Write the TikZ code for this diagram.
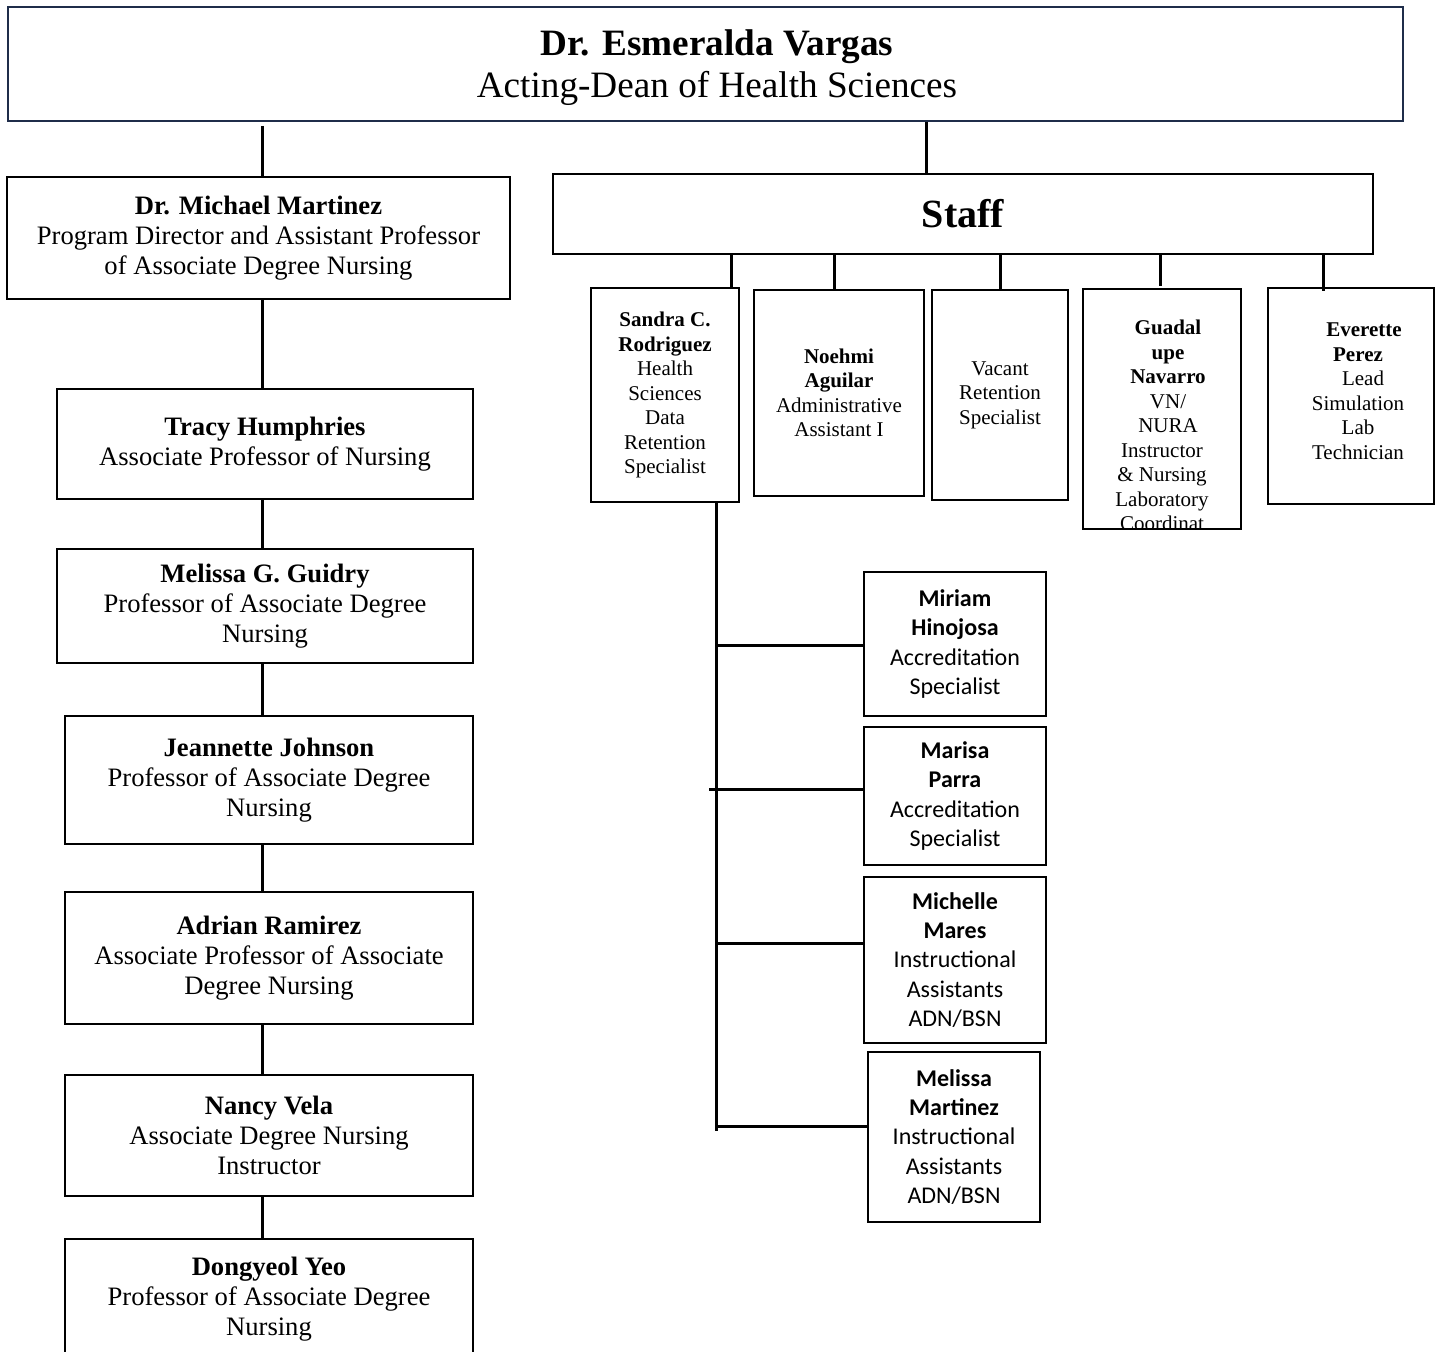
\documentclass[tikz,border=0pt]{standalone}
\usepackage{fontspec}
\setmainfont{Liberation Serif}
\newfontfamily\calibfont{Carlito}
\usepackage{tikz}
\usetikzlibrary{shapes,arrows}
\definecolor{deanblue}{RGB}{31,45,74}
\tikzstyle{link} = [draw, line width=1.5pt]
\tikzstyle{facbox} = [rectangle, draw=black, line width=1pt, align=center, inner sep=0pt, font=\fontsize{13.3}{15}\selectfont]
\tikzstyle{staffbox} = [rectangle, draw=black, line width=1pt, align=center, inner sep=0pt, font=\fontsize{10.5}{12.25}\selectfont]
\tikzstyle{stafftext} = [align=center, inner sep=0pt, font=\fontsize{10.5}{12.25}\selectfont]
\tikzstyle{subbox} = [rectangle, draw=black, line width=1.3pt, align=center, inner sep=0pt, font=\calibfont\fontsize{12}{14.65}\selectfont]

\begin{document}
\begin{tikzpicture}[x=0.5pt, y=-0.5pt]
        \useasboundingbox (0,0) rectangle (1435,1352);
        % dean
        \node (Dean) [rectangle, draw=deanblue, line width=1pt, minimum width=697.5pt, minimum height=57pt] at (705.5,64) {};
        \node (DeanText) [align=center, inner sep=0pt, font=\fontsize{18.6}{21}\selectfont] at (717,68) {\textbf{Dr. Esmeralda Vargas}\\Acting-Dean of Health Sciences};

        % faculty column
        \node (Michael) [facbox, minimum width=251.5pt, minimum height=61pt] at (258.5,238) {\textbf{Dr. Michael Martinez}\\Program Director and Assistant Professor\\of Associate Degree Nursing};
        \node (Tracy) [facbox, minimum width=208pt, minimum height=55pt] at (265,444) {\textbf{Tracy Humphries}\\Associate Professor of Nursing};
        \node (Guidry) [facbox, minimum width=208pt, minimum height=57pt] at (265,606) {\textbf{Melissa G. Guidry}\\Professor of Associate Degree\\Nursing};
        \node (Johnson) [facbox, minimum width=204pt, minimum height=64pt] at (269,780) {\textbf{Jeannette Johnson}\\Professor of Associate Degree\\Nursing};
        \node (Ramirez) [facbox, minimum width=204pt, minimum height=66pt] at (269,958) {\textbf{Adrian Ramirez}\\Associate Professor of Associate\\Degree Nursing};
        \node (Vela) [facbox, minimum width=204pt, minimum height=60.5pt] at (269,1135.5) {\textbf{Nancy Vela}\\Associate Degree Nursing\\Instructor};
        \node (Yeo) [facbox, minimum width=204pt, minimum height=60.5pt] at (269,1299.5) {\textbf{Dongyeol Yeo}\\Professor of Associate Degree\\Nursing};

        \coordinate (Spine) at (262.5,0);
        \path [link] ([yshift=-2pt]Dean.south -| Spine) -- (Michael.north -| Spine);
        \path [link] (Michael.south -| Spine) -- (Tracy.north -| Spine);
        \path [link] (Tracy.south -| Spine) -- (Guidry.north -| Spine);
        \path [link] (Guidry.south -| Spine) -- (Johnson.north -| Spine);
        \path [link] (Johnson.south -| Spine) -- (Ramirez.north -| Spine);
        \path [link] (Ramirez.south -| Spine) -- (Vela.north -| Spine);
        \path [link] (Vela.south -| Spine) -- (Yeo.north -| Spine);

        % staff
        \node (Staff) [rectangle, draw=black, line width=1pt, minimum width=410pt, minimum height=40pt, font=\fontsize{20}{24}\selectfont\bfseries] at (963,214) {Staff};
        \coordinate (StaffDrop) at (926,0);
        \path [link] (Dean.south -| StaffDrop) -- (Staff.north -| StaffDrop);

        \node (Sandra) [staffbox, minimum width=74pt, minimum height=107pt] at (665,395) {\textbf{Sandra C.}\\\textbf{Rodriguez}\\Health\\Sciences\\Data\\Retention\\Specialist};
        \node (Noehmi) [staffbox, minimum width=85pt, minimum height=103pt] at (839,393) {\textbf{Noehmi}\\\textbf{Aguilar}\\Administrative\\Assistant I};
        \node (Vacant) [staffbox, minimum width=68pt, minimum height=105pt] at (1000,395) {Vacant\\Retention\\Specialist};
        \begin{scope}
            \clip (1083,289) rectangle (1241,529);
            \node (GuadalupeText) [stafftext] at (1162,425.5) {\hspace*{6pt}\textbf{Guadal}\\\hspace*{6pt}\textbf{upe}\\\hspace*{6pt}\textbf{Navarro}\\\hspace*{6pt}VN/\\\hspace*{6pt}NURA\\Instructor\\\& Nursing\\Laboratory\\Coordinat};
        \end{scope}
        \node (Guadalupe) [staffbox, minimum width=79pt, minimum height=120pt] at (1162,409) {};
        \node (Everette) [staffbox, minimum width=83pt, minimum height=108pt] at (1351,396) {};
        \node (EveretteText) [stafftext] at (1358,391) {\hspace*{6pt}\textbf{Everette}\\\textbf{Perez}\\\hspace*{5pt}Lead\\Simulation\\Lab\\Technician};

        \coordinate (SandraDrop) at (731,0);
        \coordinate (NoehmiDrop) at (834,0);
        \coordinate (VacantDrop) at (1000,0);
        \coordinate (GuadalupeDrop) at (1160,0);
        \coordinate (EveretteDrop) at (1323,0);
        \path [link] (Staff.south -| SandraDrop) -- (Sandra.north -| SandraDrop);
        \path [link] (Staff.south -| NoehmiDrop) -- (Noehmi.north -| NoehmiDrop);
        \path [link] (Staff.south -| VacantDrop) -- (Vacant.north -| VacantDrop);
        \path [link] (Staff.south -| GuadalupeDrop) -- ([yshift=1pt]Guadalupe.north -| GuadalupeDrop);
        \path [link] (Staff.south -| EveretteDrop) -- ([yshift=-2pt]Everette.north -| EveretteDrop);

        % accreditation and instructional assistants
        \node (Miriam) [subbox, minimum width=91pt, minimum height=72pt] at (955,644) {\textbf{Miriam}\\\textbf{Hinojosa}\\Accreditation\\Specialist};
        \node (Marisa) [subbox, minimum width=91pt, minimum height=69pt] at (955,796) {\textbf{Marisa}\\\textbf{Parra}\\Accreditation\\Specialist};
        \node (Michelle) [subbox, minimum width=91pt, minimum height=83pt] at (955,960) {\textbf{Michelle}\\\textbf{Mares}\\Instructional\\Assistants\\ADN/BSN};
        \node (MelissaM) [subbox, minimum width=86pt, minimum height=85pt] at (954,1137) {\textbf{Melissa}\\\textbf{Martinez}\\Instructional\\Assistants\\ADN/BSN};

        \coordinate (TrunkEnd) at (716,1131);
        \path [link] (Sandra.south -| TrunkEnd) -- (TrunkEnd);
        \path [link] ([yshift=-1pt]Miriam.west) -- ([yshift=-1pt]Miriam.west -| TrunkEnd);
        \path [link] ([yshift=3.5pt]Marisa.west) -- ++(-154,0);
        \path [link] ([yshift=8.5pt]Michelle.west) -- ([yshift=8.5pt]Michelle.west -| TrunkEnd);
        \path [link] ([yshift=5.5pt]MelissaM.west) -- ([yshift=5.5pt]MelissaM.west -| TrunkEnd);
\end{tikzpicture}
\end{document}
